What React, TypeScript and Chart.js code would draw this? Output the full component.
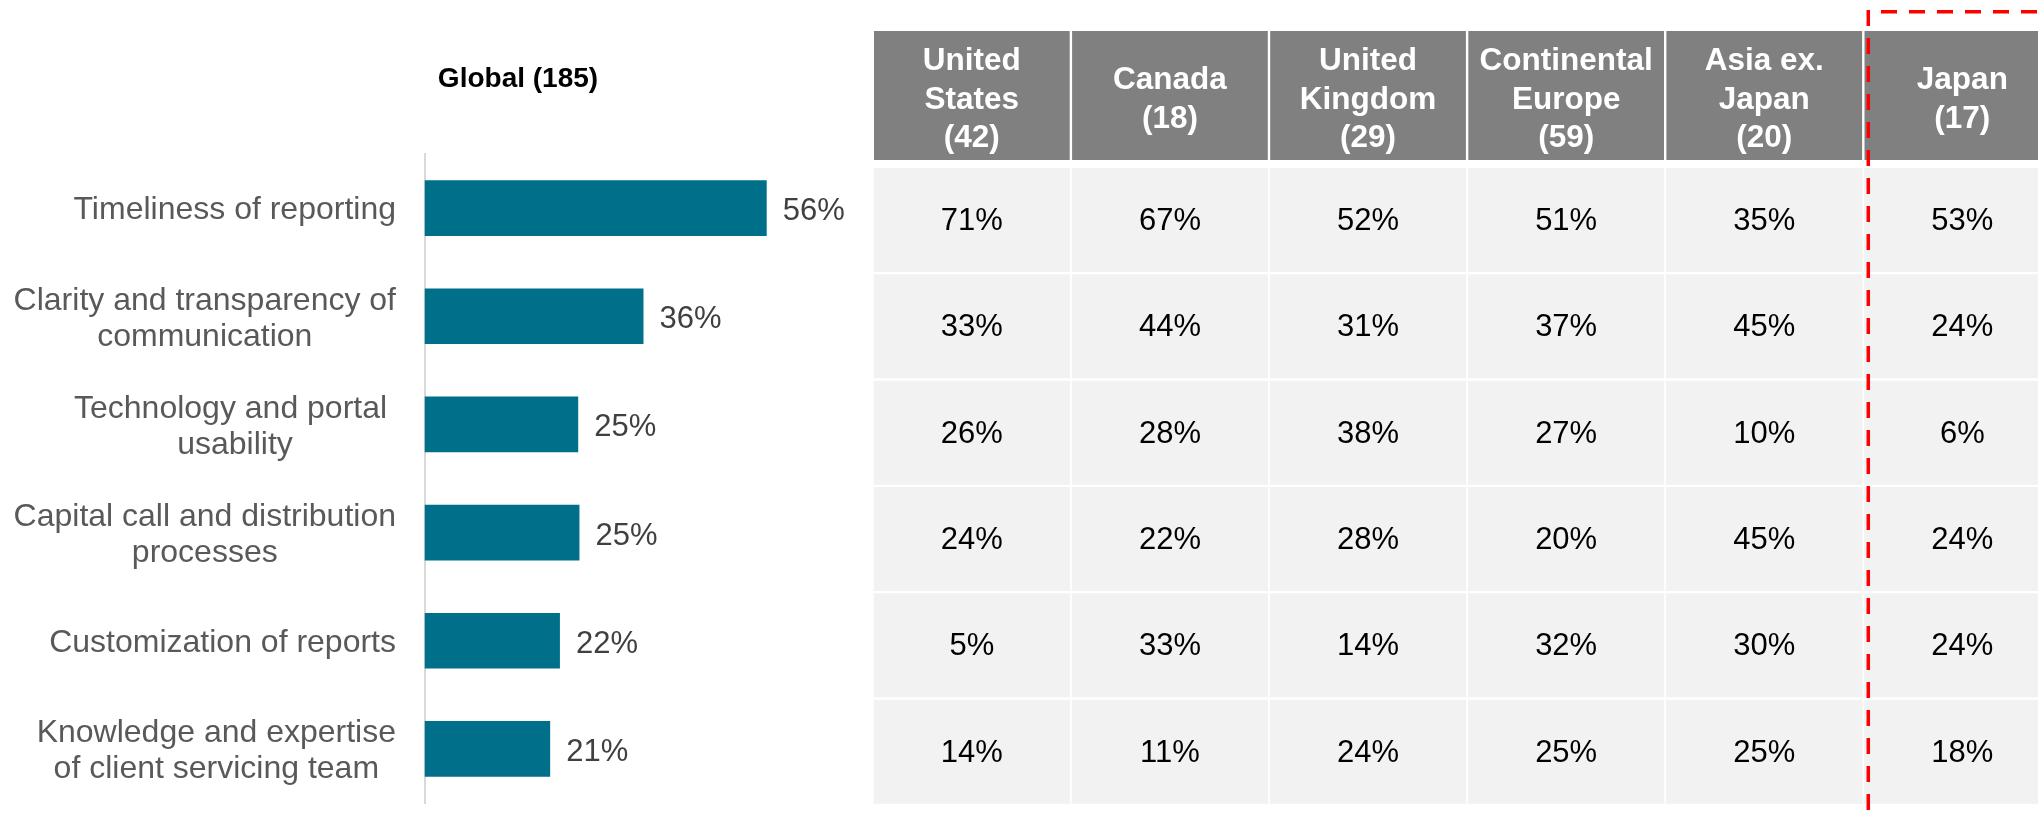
import React, { useEffect, useRef } from "react";
import { Chart, registerables } from "chart.js";

Chart.register(...registerables);

// ---------- data ----------
const categories: string[][] = [
  ["Timeliness of reporting"],
  ["Clarity and transparency of", "communication"],
  ["Technology and portal ", "usability"],
  ["Capital call and distribution", "processes"],
  ["Customization of reports"],
  ["Knowledge and expertise", "of client servicing team"],
];
const globalTitle = "Global (185)";
const globalValues = [56.1, 35.9, 25.2, 25.4, 22.2, 20.6];

const regionNames: string[][] = [
  ["United", "States"],
  ["Canada"],
  ["United", "Kingdom"],
  ["Continental", "Europe"],
  ["Asia ex.", "Japan"],
  ["Japan"],
];
const regionCounts = [42, 18, 29, 59, 20, 17];

const unitedStates = [71, 33, 26, 24, 5, 14];
const canada = [67, 44, 28, 22, 33, 11];
const unitedKingdom = [52, 31, 38, 28, 14, 24];
const continentalEurope = [51, 37, 27, 20, 32, 25];
const asiaExJapan = [35, 45, 10, 45, 30, 25];
const japan = [53, 24, 6, 24, 24, 18];
const regionValues = [unitedStates, canada, unitedKingdom, continentalEurope, asiaExJapan, japan];
const highlightedRegion = 5;

// ---------- styles ----------
const FONT = "'Liberation Sans', Arial, Helvetica, sans-serif";
const BAR_COLOR = "#006F8A";
const LABEL_COLOR = "#595959";
const VALUE_COLOR = "#404040";
const HEADER_BG = "#808080";
const CELL_BG = "#F2F2F2";

const leftPlugin = {
  id: "leftLabels",
  afterDraw(chart: any) {
    const ctx = chart.ctx;
    const area = chart.chartArea;
    const yScale = chart.scales.y;
    ctx.save();
    // title
    ctx.font = `bold 28px ${FONT}`;
    ctx.fillStyle = "#000000";
    ctx.textAlign = "center";
    ctx.textBaseline = "middle";
    ctx.fillText(globalTitle, area.left + 93.5, 79);

    // category labels
    ctx.font = `32px ${FONT}`;
    ctx.fillStyle = LABEL_COLOR;
    categories.forEach((lines, i) => {
      const yc = yScale.getPixelForValue(i) + 2.5;
      const maxW = Math.max(...lines.map((l) => ctx.measureText(l).width));
      const cx = area.left - 28.5 - maxW / 2;
      lines.forEach((line, j) => {
        ctx.fillText(line, cx, yc + (j - (lines.length - 1) / 2) * 36);
      });
    });

    // value labels
    const meta = chart.getDatasetMeta(0);
    ctx.font = `31px ${FONT}`;
    ctx.fillStyle = VALUE_COLOR;
    ctx.textAlign = "left";
    meta.data.forEach((el: any, i: number) => {
      ctx.fillText(`${Math.round(globalValues[i])}%`, el.x + 16, el.y + 3.5);
    });
    ctx.restore();
  },
};

const tablePlugin = {
  id: "tableText",
  afterDraw(chart: any) {
    const ctx = chart.ctx;
    const area = chart.chartArea;
    const xScale = chart.scales.x;
    const pitch = xScale.width / regionNames.length;
    ctx.save();

    // header
    const hTop = area.top - 135.8;
    const hBottom = area.top - 6.8;
    regionNames.forEach((name, i) => {
      const cx = xScale.getPixelForValue(i);
      ctx.fillStyle = HEADER_BG;
      ctx.fillRect(cx - pitch / 2 + 1.2, hTop, pitch - 2.4, hBottom - hTop);
      const lines = [...name, `(${regionCounts[i]})`];
      ctx.fillStyle = "#FFFFFF";
      ctx.font = `bold 31.5px ${FONT}`;
      ctx.textAlign = "center";
      ctx.textBaseline = "middle";
      const mid = (hTop + hBottom) / 2 + 4.5;
      lines.forEach((line, j) => {
        ctx.fillText(line, cx, mid + (j - (lines.length - 1) / 2) * 38.6);
      });
    });

    // cell values
    ctx.font = `31px ${FONT}`;
    ctx.fillStyle = "#000000";
    ctx.textAlign = "center";
    ctx.textBaseline = "middle";
    chart.data.datasets.forEach((ds: any, r: number) => {
      const meta = chart.getDatasetMeta(r);
      meta.data.forEach((el: any, c: number) => {
        const yc = (el.y + el.base) / 2;
        ctx.fillText(`${ds.values[c]}%`, el.x, yc + 1.5);
      });
    });

    // highlight box (dashed red)
    const x0 = xScale.getPixelForValue(highlightedRegion) - pitch / 2 + 5;
    const y0 = area.top - 155;
    ctx.strokeStyle = "#FF0000";
    ctx.lineWidth = 3.5;
    ctx.lineCap = "butt";
    ctx.setLineDash([16, 12]);
    ctx.lineDashOffset = 0;
    ctx.beginPath();
    ctx.moveTo(x0, y0 - 1.8);
    ctx.lineTo(x0, chart.height + 40);
    ctx.stroke();
    ctx.lineDashOffset = 15.3;
    ctx.beginPath();
    ctx.moveTo(x0, y0);
    ctx.lineTo(chart.width + 40, y0);
    ctx.stroke();
    ctx.restore();
  },
};

export default function App() {
  const leftRef = useRef<HTMLCanvasElement>(null);
  const tableRef = useRef<HTMLCanvasElement>(null);

  useEffect(() => {
    const left = new Chart(leftRef.current as HTMLCanvasElement, {
      type: "bar",
      data: {
        labels: categories.map((c) => c.join(" ")),
        datasets: [
          {
            label: globalTitle,
            data: globalValues,
            backgroundColor: BAR_COLOR,
            borderWidth: 0,
            barPercentage: 0.515,
            categoryPercentage: 1,
          },
        ],
      },
      options: {
        indexAxis: "y",
        responsive: false,
        animation: false,
        devicePixelRatio: 1,
        layout: { padding: { left: 424.5, top: 154, right: 8.5, bottom: 14 } },
        scales: {
          x: { display: false, min: 0, max: 70 },
          y: {
            display: true,
            grid: { display: false, drawTicks: false },
            ticks: { display: false },
            border: { display: true, color: "#D9D9D9", width: 2 },
          },
        },
        plugins: {
          legend: { display: false },
          tooltip: { enabled: false },
          title: { display: false },
        },
      },
      plugins: [leftPlugin],
    } as any);

    const table = new Chart(tableRef.current as HTMLCanvasElement, {
      type: "bar",
      data: {
        labels: regionNames.map((n) => n.join(" ")),
        datasets: categories.map((c, r) => ({
          label: c.join(" ").trim(),
          data: regionValues.map(() => [r, r + 1]),
          values: regionValues.map((v) => v[r]),
          backgroundColor: CELL_BG,
          borderColor: "#FFFFFF",
          borderWidth: { left: 1.2, right: 1.2, top: 1.5, bottom: 1.5 },
          borderSkipped: false,
          grouped: false,
          barPercentage: 1,
          categoryPercentage: 1,
        })),
      },
      options: {
        responsive: false,
        animation: false,
        devicePixelRatio: 1,
        layout: { padding: { left: 12.8, right: 18.6, top: 166.8, bottom: 12.2 } },
        scales: {
          x: { type: "category", display: false, offset: true },
          y: { type: "linear", display: false, min: 0, max: 6, reverse: true },
        },
        plugins: {
          legend: { display: false },
          tooltip: { enabled: false },
          title: { display: false },
        },
      },
      plugins: [tablePlugin],
    } as any);

    return () => {
      left.destroy();
      table.destroy();
    };
  }, []);

  return (
    <div
      style={{
        position: "fixed",
        left: 0,
        top: 0,
        width: 2038,
        height: 817,
        overflow: "hidden",
        background: "#FFFFFF",
      }}
    >
      <canvas
        ref={leftRef}
        width={860}
        height={817}
        style={{ position: "absolute", left: 0, top: 0, width: 860, height: 817 }}
      />
      <canvas
        ref={tableRef}
        width={1220}
        height={817}
        style={{ position: "absolute", left: 860, top: 0, width: 1220, height: 817 }}
      />
    </div>
  );
}
